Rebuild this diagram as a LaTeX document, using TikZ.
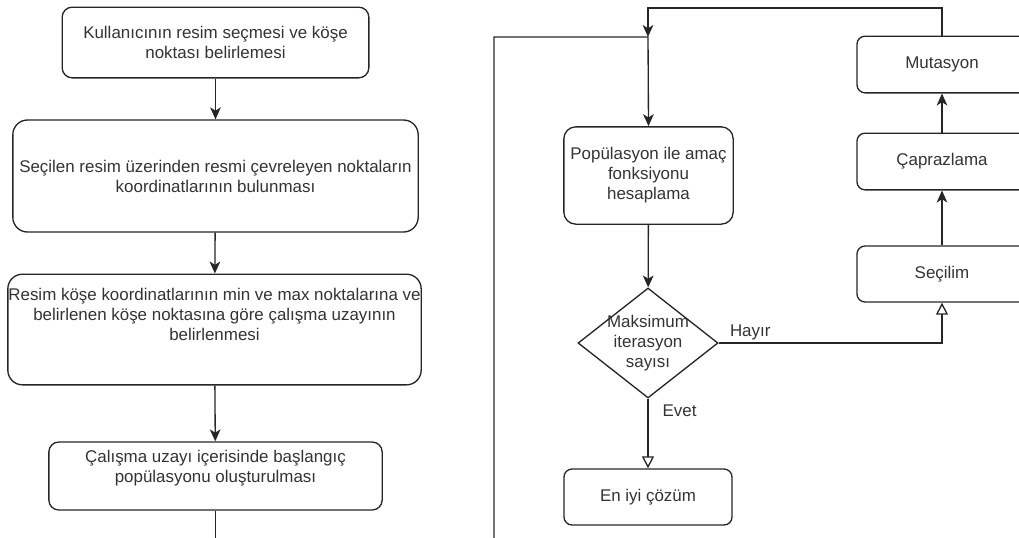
\documentclass[tikz,border=0pt]{standalone}
\usepackage{fontspec}
\setmainfont{Liberation Sans}
\usetikzlibrary{shapes.geometric,arrows.meta}
\definecolor{inkgray}{HTML}{333333}
\tikzset{>={Stealth[length=9pt,width=8pt,inset=2.5pt]}}
\tikzset{
  box/.style={draw=black!85, line width=1pt, rounded corners=7.5pt,
    align=center, inner sep=0pt, text=inkgray,
    font=\fontsize{12.7}{15}\selectfont},
  decision/.style={diamond, draw=black!85, line width=1pt, inner sep=0pt,
    minimum width=105pt, minimum height=82.5pt},
  txt/.style={align=center, text=inkgray, inner sep=0pt,
    font=\fontsize{12.7}{15}\selectfont},
  lbl/.style={text=inkgray, inner sep=2pt, font=\fontsize{12.7}{15}\selectfont},
  arr/.style={->, line width=1pt, draw=black!85},
  oarr/.style={-{Triangle[open,length=9pt,width=9pt]}, line width=1pt, draw=black!85}
}

\begin{document}
\begin{tikzpicture}[x=0.75pt,y=-0.75pt]

\useasboundingbox (0,0) rectangle (1019,537);
\clip (0,0) rectangle (1019,537);

% left column
\node[box, minimum width=230pt, minimum height=53pt] (kul) at (215.5,42.5)
  {Kullanıcının resim seçmesi ve köşe\\noktası belirlemesi};
\node[box, minimum width=304pt, minimum height=84pt, rounded corners=11pt] (koord) at (215.5,176)
  {Seçilen resim üzerinden resmi çevreleyen noktaların\\koordinatlarının bulunması};
\node[box, minimum width=310pt, minimum height=83pt, rounded corners=11pt,
  label={[txt, yshift=11.5pt]center:Resim köşe koordinatlarının min ve max noktalarına ve\\belirlenen köşe noktasına göre çalışma uzayının\\belirlenmesi}] (uzay) at (214.5,329.5) {};
\node[box, minimum width=250pt, minimum height=51pt,
  label={[txt, yshift=6pt]center:Çalışma uzayı içerisinde başlangıç\\popülasyonu oluşturulması}] (bas) at (215.5,476) {};

\draw[arr] (kul) -- (koord);
\draw[arr] (koord) -- (uzay);
\draw[arr] (uzay) -- (bas);
\coordinate (basend) at (215.5,560);
\draw[line width=1pt, draw=black!85] (bas) -- (basend);

% right column
\node[box, minimum width=127pt, minimum height=73pt, rounded corners=9pt] (pop) at (648.5,175.5)
  {Popülasyon ile amaç\\fonksiyonu\\hesaplama};
\node[decision, label={[txt]center:Maksimum\\iterasyon\\sayısı}] (maks) at (648,343) {};
\node[box, minimum width=126pt, minimum height=42pt, rounded corners=6pt] (eniyi) at (648,497)
  {En iyi çözüm};
\node[box, minimum width=127.5pt, minimum height=42pt, rounded corners=6pt] (sec) at (942,274)
  {Seçilim};
\node[box, minimum width=127.5pt, minimum height=42.5pt, rounded corners=6pt] (cap) at (942,161.5)
  {Çaprazlama};
\node[box, minimum width=127.5pt, minimum height=42.5pt, rounded corners=6pt] (mut) at (942,64.5)
  {Mutasyon};

\coordinate (top) at (648,8);
\coordinate (join) at (648,37);
\coordinate (lb) at (494,560);

\draw[arr] (mut.north) |- (top) -- (join);
\draw[arr] (lb) |- (join) -- (pop.north);
\draw[arr] (pop) -- (maks);
\draw[oarr] (maks.east) -| node[lbl, at start, anchor=south west, xshift=6pt]{Hayır} (sec.south);
\draw[oarr] (maks.south) -- node[lbl, at start, anchor=north west, xshift=8.5pt, yshift=-2.5pt]{Evet} (eniyi.north);
\draw[arr] (sec) -- (cap);
\draw[arr] (cap) -- (mut);

\end{tikzpicture}
\end{document}
